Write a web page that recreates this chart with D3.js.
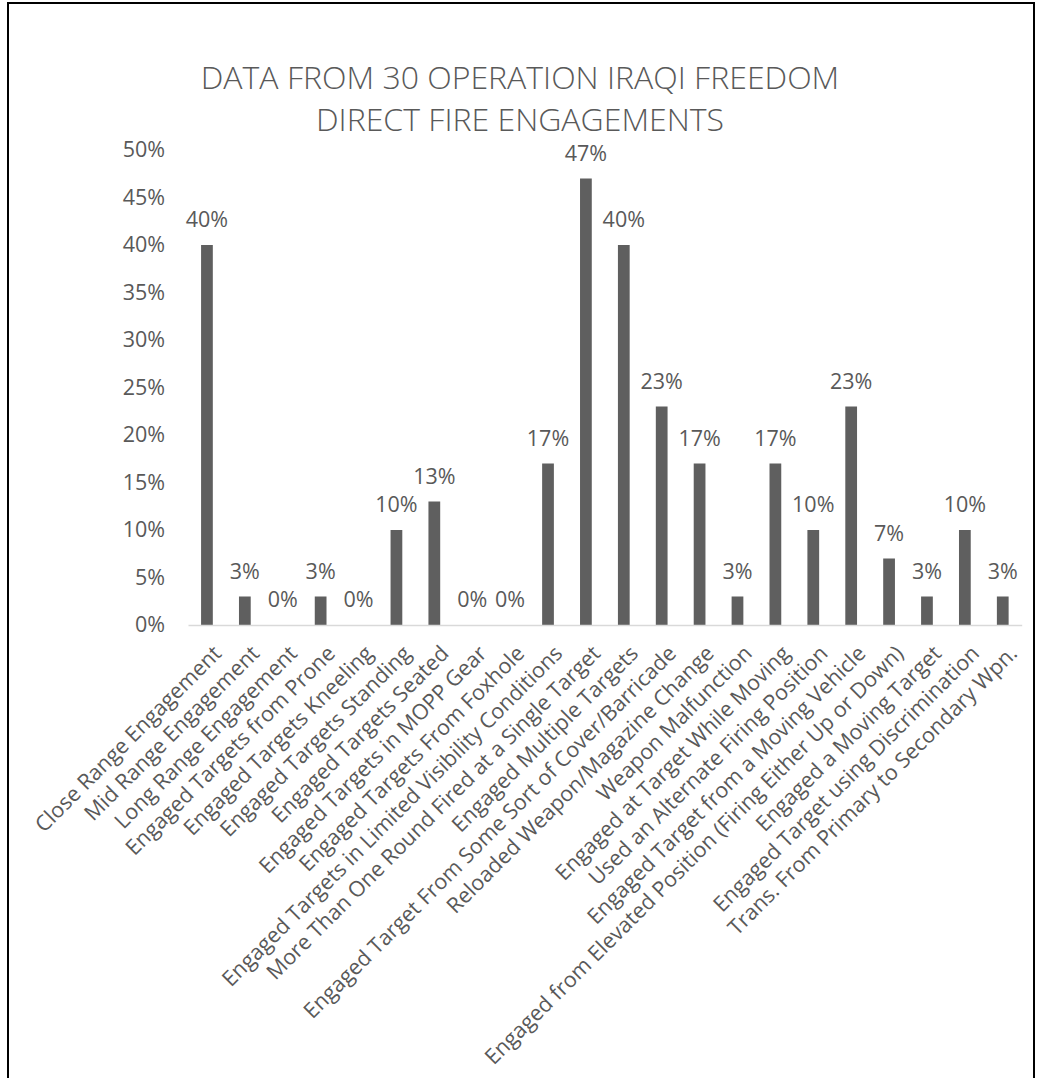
<!DOCTYPE html>
<html>
<head>
<meta charset="utf-8">
<script src="https://cdn.jsdelivr.net/npm/d3@7"></script>
<style>
  html, body { margin: 0; padding: 0; background: #fff; }
  svg { display: block; }
  text { font-family: "Open Sans", "Noto Sans", sans-serif; fill: #595959; }
</style>
</head>
<body>
<svg id="chart" width="1039" height="1078"></svg>
<script>
// Share of 30 direct-fire engagements in which each event occurred
const categories = [
  "Close Range Engagement",
  "Mid Range Engagement",
  "Long Range Engagement",
  "Engaged Targets from Prone",
  "Engaged Targets Kneeling",
  "Engaged Targets Standing",
  "Engaged Targets Seated",
  "Engaged Targets in MOPP Gear",
  "Engaged Targets From Foxhole",
  "Engaged Targets in Limited Visibility Conditions",
  "More Than One Round Fired at a Single Target",
  "Engaged Multiple Targets",
  "Engaged Target From Some Sort of Cover/Barricade",
  "Reloaded Weapon/Magazine Change",
  "Weapon Malfunction",
  "Engaged at Target While Moving",
  "Used an Alternate Firing Position",
  "Engaged Target from a Moving Vehicle",
  "Engaged from Elevated Position (Firing Either Up or Down)",
  "Engaged a Moving Target",
  "Engaged Target using Discrimination",
  "Trans. From Primary to Secondary Wpn."
];
const percentages = [40, 3, 0, 3, 0, 10, 13, 0, 0, 17, 47, 40, 23, 17, 3, 17, 10, 23, 7, 3, 10, 3];
const yTicks = [0, 5, 10, 15, 20, 25, 30, 35, 40, 45, 50];
const titleLines = ["DATA FROM 30 OPERATION IRAQI FREEDOM", "DIRECT FIRE ENGAGEMENTS"];

const svg = d3.select("#chart");

// chart frame (open at the bottom edge)
svg.append("path")
  .attr("d", "M8,1078 V3 H1034 V1078")
  .attr("fill", "none")
  .attr("stroke", "#000")
  .attr("stroke-width", 2);

// title
svg.append("g").selectAll("text")
  .data(titleLines)
  .join("text")
  .attr("x", 520)
  .attr("y", (d, i) => 89 + i * 42)
  .attr("text-anchor", "middle")
  .attr("font-size", 32)
  .attr("font-weight", 300)
  .text(d => d);

const plot = { left: 188, right: 1021.7, top: 150, bottom: 625 };

const x = d3.scaleBand()
  .domain(categories)
  .range([plot.left, plot.right])
  .padding(0);

const y = d3.scaleLinear()
  .domain([0, 50])
  .range([plot.bottom, plot.top]);

const barW = x.bandwidth() * 0.31;
const labelSize = 21.5;

// y axis labels (no axis line, no gridlines)
const yAxis = d3.axisLeft(y)
  .tickValues(yTicks)
  .tickFormat(d => d + "%")
  .tickSize(0)
  .tickPadding(0);
const yg = svg.append("g")
  .attr("transform", `translate(165,0)`)
  .call(yAxis);
yg.select(".domain").remove();
yg.selectAll("text")
  .attr("font-size", labelSize)
  .attr("fill", "#595959")
  .style("font-family", "'Open Sans', sans-serif");

// bars
svg.append("g").selectAll("rect")
  .data(percentages)
  .join("rect")
  .attr("x", (d, i) => x(categories[i]) + x.bandwidth() / 2 - barW / 2)
  .attr("y", d => y(d))
  .attr("width", barW)
  .attr("height", d => y(0) - y(d))
  .attr("fill", "#5f5f5f");

// value labels
svg.append("g").selectAll("text")
  .data(percentages)
  .join("text")
  .attr("x", (d, i) => x(categories[i]) + x.bandwidth() / 2)
  .attr("y", d => y(d) - 18)
  .attr("text-anchor", "middle")
  .attr("font-size", labelSize)
  .text(d => d + "%");

// category axis
const xAxis = d3.axisBottom(x).tickSize(0).tickFormat("");
const xg = svg.append("g")
  .attr("transform", `translate(0,${plot.bottom})`)
  .call(xAxis);
xg.select(".domain")
  .attr("stroke", "#d9d9d9")
  .attr("stroke-width", 1.5);

// rotated category labels
svg.append("g").selectAll("text")
  .data(categories)
  .join("text")
  .attr("transform", d => `translate(${x(d) + x.bandwidth() / 2 + 5},${plot.bottom + 19}) rotate(-45)`)
  .attr("text-anchor", "end")
  .attr("dy", "0.71em")
  .attr("font-size", labelSize)
  .text(d => d);
</script>
</body>
</html>
